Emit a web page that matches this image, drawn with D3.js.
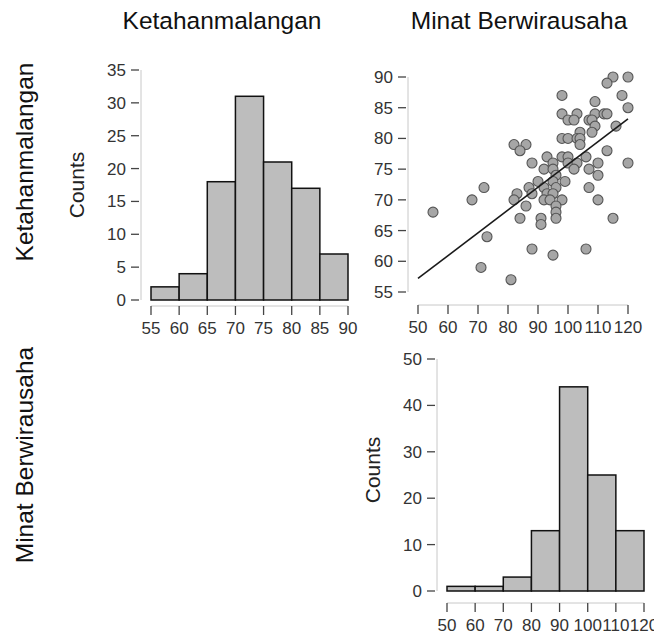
<!DOCTYPE html>
<html>
<head>
<meta charset="utf-8">
<script src="https://cdn.jsdelivr.net/npm/d3@7"></script>
<style>
  body { margin: 0; background: #fff; }
  svg text { font-family: "Liberation Sans", Arial, sans-serif; }
</style>
</head>
<body>
<div id="chart"></div>
<script>
// Variable names
const varNames = ["Ketahanmalangan", "Minat Berwirausaha"];

// Histogram: Ketahanmalangan
const ketBins = [55, 60, 65, 70, 75, 80, 85, 90];
const ketCounts = [2, 4, 18, 31, 21, 17, 7];
const ketTicks = [55, 60, 65, 70, 75, 80, 85, 90];
const ketCountTicks = [0, 5, 10, 15, 20, 25, 30, 35];

// Histogram: Minat Berwirausaha
const minBins = [50, 60, 70, 80, 90, 100, 110, 120];
const minCounts = [1, 1, 3, 13, 44, 25, 13];
const minTicks = [50, 60, 70, 80, 90, 100, 110, 120];
const minCountTicks = [0, 10, 20, 30, 40, 50];

// Scatter: x = Minat Berwirausaha, y = Ketahanmalangan
const scatterX = [115, 120, 113, 98, 118, 109, 120, 98, 103, 109, 112, 113,
  100, 102, 107, 108, 109, 116, 104, 108, 98, 100, 103, 104, 82, 86, 104,
  84, 113, 93, 98, 100, 106, 88, 95, 100, 103, 110, 120, 92, 95, 102, 107,
  110, 96, 90, 95, 99, 72, 87, 92, 96, 107, 83, 88, 93, 95, 68, 82, 92, 94,
  98, 110, 86, 96, 55, 96, 84, 91, 96, 115, 91, 73, 88, 106, 95, 71, 81];
const scatterY = [90, 90, 89, 87, 87, 86, 85, 84, 84, 84, 84, 84,
  83, 83, 83, 83, 82, 82, 81, 81, 80, 80, 80, 80, 79, 79, 79,
  78, 78, 77, 77, 77, 77, 76, 76, 76, 76, 76, 76, 75, 75, 75, 75,
  74, 74, 73, 73, 73, 72, 72, 72, 72, 72, 71, 71, 71, 71, 70, 70, 70, 70,
  70, 70, 69, 69, 68, 68, 67, 67, 67, 67, 66, 64, 62, 62, 61, 59, 57];
const scatterXTicks = [50, 60, 70, 80, 90, 100, 110, 120];
const scatterYTicks = [55, 60, 65, 70, 75, 80, 85, 90];
// Fitted line
const fitIntercept = 38.63;
const fitSlope = 0.3714;

const W = 654, H = 637;
const svg = d3.select("#chart").append("svg")
    .attr("width", W)
    .attr("height", H);

const tickColor = "#444";
const axisColor = "#c8c8c8";
const labelColor = "#333";

// Draw a left axis: light axis line, darker outward ticks
function leftAxis(g, y, ticks, xPos) {
    g.append("line")
        .attr("x1", xPos).attr("x2", xPos)
        .attr("y1", y(ticks[0])).attr("y2", y(ticks[ticks.length - 1]))
        .attr("stroke", axisColor).attr("stroke-width", 1);
    ticks.forEach(t => {
        g.append("line")
            .attr("x1", xPos - 10).attr("x2", xPos - 2)
            .attr("y1", y(t)).attr("y2", y(t))
            .attr("stroke", tickColor).attr("stroke-width", 1.3);
        g.append("text")
            .attr("x", xPos - 15).attr("y", y(t))
            .attr("dy", "0.35em")
            .attr("text-anchor", "end")
            .attr("font-size", 17)
            .attr("fill", labelColor)
            .text(t);
    });
}

function bottomAxis(g, x, ticks, yPos) {
    g.append("line")
        .attr("x1", x(ticks[0])).attr("x2", x(ticks[ticks.length - 1]))
        .attr("y1", yPos).attr("y2", yPos)
        .attr("stroke", axisColor).attr("stroke-width", 1);
    ticks.forEach(t => {
        g.append("line")
            .attr("x1", x(t)).attr("x2", x(t))
            .attr("y1", yPos).attr("y2", yPos + 9)
            .attr("stroke", tickColor).attr("stroke-width", 1.3);
        g.append("text")
            .attr("x", x(t)).attr("y", yPos + 28)
            .attr("text-anchor", "middle")
            .attr("font-size", 17)
            .attr("fill", labelColor)
            .text(t);
    });
}

function histogram(bins, counts, x, y) {
    const g = svg.append("g");
    g.selectAll("rect")
        .data(counts)
        .enter().append("rect")
        .attr("x", (d, i) => x(bins[i]))
        .attr("y", d => y(d))
        .attr("width", (d, i) => x(bins[i + 1]) - x(bins[i]))
        .attr("height", d => y(0) - y(d))
        .attr("fill", "#bdbdbd")
        .attr("stroke", "#111")
        .attr("stroke-width", 1.5);
    return g;
}

// Top-left histogram
const x1 = d3.scaleLinear().domain([55, 90]).range([151, 348]);
const y1 = d3.scaleLinear().domain([0, 35]).range([300, 70]);
histogram(ketBins, ketCounts, x1, y1);
leftAxis(svg.append("g"), y1, ketCountTicks, 141);
bottomAxis(svg.append("g"), x1, ketTicks, 306);

// Scatter plot
const xs = d3.scaleLinear().domain([50, 120]).range([418, 628]);
const ys = d3.scaleLinear().domain([55, 90]).range([292, 77]);
leftAxis(svg.append("g"), ys, scatterYTicks, 408);
bottomAxis(svg.append("g"), xs, scatterXTicks, 305);

const pts = d3.zip(scatterX, scatterY);
svg.append("g")
    .selectAll("circle")
    .data(pts)
    .enter().append("circle")
    .attr("cx", d => xs(d[0]))
    .attr("cy", d => ys(d[1]))
    .attr("r", 5)
    .attr("fill", "#a6a6a6")
    .attr("stroke", "#555")
    .attr("stroke-width", 1.1);

svg.append("line")
    .attr("x1", xs(50)).attr("y1", ys(fitIntercept + fitSlope * 50))
    .attr("x2", xs(120)).attr("y2", ys(fitIntercept + fitSlope * 120))
    .attr("stroke", "#1a1a1a")
    .attr("stroke-width", 1.6);

// Bottom-right histogram
const x2 = d3.scaleLinear().domain([50, 120]).range([447, 644]);
const y2 = d3.scaleLinear().domain([0, 50]).range([591, 359]);
histogram(minBins, minCounts, x2, y2);
leftAxis(svg.append("g"), y2, minCountTicks, 437);
bottomAxis(svg.append("g"), x2, minTicks, 603);

// "Counts" labels
[[77, 185], [373, 470]].forEach(p => {
    svg.append("text")
        .attr("transform", `translate(${p[0]},${p[1]}) rotate(-90)`)
        .attr("text-anchor", "middle")
        .attr("dy", "0.35em")
        .attr("font-size", 21)
        .attr("fill", "#222")
        .text("Counts");
});

// Column titles
[[222, varNames[0]], [519, varNames[1]]].forEach(p => {
    svg.append("text")
        .attr("x", p[0]).attr("y", 29)
        .attr("text-anchor", "middle")
        .attr("font-size", 24.5)
        .attr("fill", "#111")
        .text(p[1]);
});

// Row titles
[[33, 162, varNames[0]], [33, 455, varNames[1]]].forEach(p => {
    svg.append("text")
        .attr("transform", `translate(${p[0]},${p[1]}) rotate(-90)`)
        .attr("text-anchor", "middle")
        .attr("font-size", 24.5)
        .attr("fill", "#111")
        .text(p[2]);
});
</script>
</body>
</html>
